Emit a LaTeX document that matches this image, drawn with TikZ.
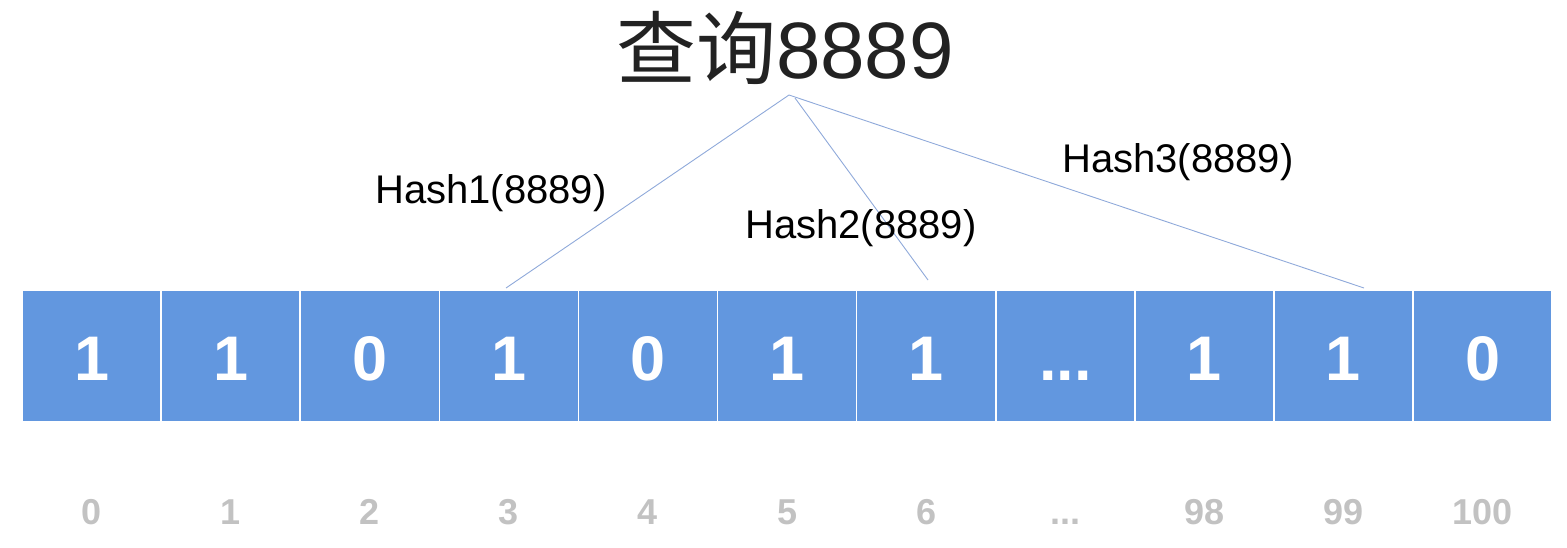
\documentclass[tikz,border=0pt]{standalone}
\usepackage{fontspec}
\setmainfont{Liberation Sans}
\newfontfamily\cjk{Noto Sans CJK SC}
\definecolor{cellblue}{HTML}{6297DF}
\definecolor{linkblue}{HTML}{8FA9DA}
\definecolor{idxgray}{HTML}{C2C2C2}
\definecolor{titlegray}{HTML}{222222}
\newcommand{\mydots}{...}
\begin{document}
\begin{tikzpicture}[x=1pt,y=-1pt,
  cell/.style={rectangle,fill=cellblue,draw=white,line width=1.6pt,minimum width=139.1pt,minimum height=131pt,inner sep=0pt},
  bit/.style={anchor=base,text=white,font=\fontsize{63}{63}\selectfont\bfseries,inner sep=0pt},
  idx/.style={anchor=base,text=idxgray,font=\fontsize{36}{36}\selectfont\bfseries,inner sep=0pt},
  hashlbl/.style={anchor=base west,font=\fontsize{40}{40}\selectfont,inner sep=0pt},
  link/.style={draw=linkblue,line width=0.9pt}]
\useasboundingbox (0,0) rectangle (1567,547);
\foreach \v/\l [count=\i from 0] in {1/0,1/1,0/2,1/3,0/4,1/5,1/6,\mydots/\mydots,1/98,1/99,0/100}{
  \pgfmathsetmacro{\cx}{22+139.1*(\i+0.5)}
  \node[cell] (c\i) at (\cx,356) {};
  \node[bit] (b\i) at (\cx,380) {\v};
  \node[idx] (i\i) at (\cx,524) {\l};
}
\node[anchor=base,inner sep=0pt,text=titlegray,font=\fontsize{80}{80}\selectfont] (title) at (785,78) {{\cjk 查询}8889};
\coordinate (apex) at (789,95);
\coordinate (apexb) at (795,98);
\coordinate (t1) at (506,288);
\coordinate (t2) at (928,280);
\coordinate (t3) at (1364,288);
\draw[link] (apex) -- (t1);
\draw[link] (apexb) -- (t2);
\draw[link] (apex) -- (t3);
\node[hashlbl] (h1) at (375,203) {Hash1(8889)};
\node[hashlbl] (h2) at (745,238) {Hash2(8889)};
\node[hashlbl] (h3) at (1062,172) {Hash3(8889)};
\end{tikzpicture}
\end{document}
